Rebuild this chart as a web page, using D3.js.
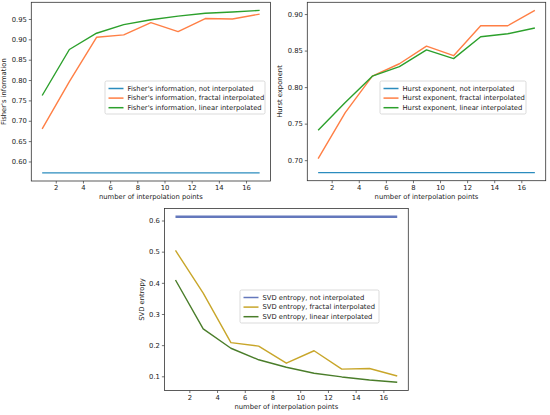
<!DOCTYPE html>
<html>
<head>
<meta charset="utf-8">
<script src="https://cdn.jsdelivr.net/npm/d3@7"></script>
<style>
  body { margin: 0; background: #fff; }
  svg text { font-family: "DejaVu Sans", sans-serif; fill: #222; }
</style>
</head>
<body>
<div id="chart"></div>
<script>
// number of interpolation points (x values, shared by all three panels)
const points = [1, 3, 5, 7, 9, 11, 13, 15, 17];
const xTicks = [2, 4, 6, 8, 10, 12, 14, 16];

// Fisher's information
const fisherNot = [0.572, 0.572, 0.572, 0.572, 0.572, 0.572, 0.572, 0.572, 0.572];
const fisherFractal = [0.680, 0.796, 0.905, 0.911, 0.941, 0.919, 0.951, 0.950, 0.962];
const fisherLinear = [0.762, 0.875, 0.915, 0.936, 0.948, 0.957, 0.964, 0.967, 0.971];
const fisherTicks = [0.60, 0.65, 0.70, 0.75, 0.80, 0.85, 0.90, 0.95];

// Hurst exponent
const hurstNot = [0.683, 0.683, 0.683, 0.683, 0.683, 0.683, 0.683, 0.683, 0.683];
const hurstFractal = [0.702, 0.765, 0.815, 0.832, 0.856, 0.843, 0.884, 0.884, 0.905];
const hurstLinear = [0.741, 0.779, 0.815, 0.828, 0.851, 0.839, 0.869, 0.873, 0.881];
const hurstTicks = [0.70, 0.75, 0.80, 0.85, 0.90];

// SVD entropy
const svdNot = [0.612, 0.612, 0.612, 0.612, 0.612, 0.612, 0.612, 0.612, 0.612];
const svdFractal = [0.504, 0.367, 0.208, 0.197, 0.142, 0.182, 0.123, 0.125, 0.101];
const svdLinear = [0.409, 0.252, 0.190, 0.153, 0.129, 0.110, 0.098, 0.088, 0.081];
const svdTicks = [0.1, 0.2, 0.3, 0.4, 0.5, 0.6];

const W = 550, H = 415;
const FS = 6.8;

const svg = d3.select("#chart").append("svg")
  .attr("width", W)
  .attr("height", H);

// one panel = frame, axes, three lines and a legend
function drawPanel(p) {
  const g = svg.append("g");

  // matplotlib style 5% margins on both axes
  const xPad = (d3.max(points) - d3.min(points)) * 0.05;
  const x = d3.scaleLinear()
    .domain([d3.min(points) - xPad, d3.max(points) + xPad])
    .range([p.left, p.right]);

  const all = p.series.flatMap(s => s.values);
  const yMin = d3.min(all), yMax = d3.max(all);
  const yPad = (yMax - yMin) * 0.05;
  const y = d3.scaleLinear()
    .domain([yMin - yPad, yMax + yPad])
    .range([p.bottom, p.top]);

  // axes
  const xAxis = g.append("g")
    .attr("transform", `translate(0,${p.bottom})`)
    .call(d3.axisBottom(x).tickValues(xTicks).tickSize(2.5).tickPadding(2).tickFormat(d3.format("d")));
  const yAxis = g.append("g")
    .attr("transform", `translate(${p.left},0)`)
    .call(d3.axisLeft(y).tickValues(p.ticks).tickSize(2.5).tickPadding(2).tickFormat(d3.format(p.fmt)));

  [xAxis, yAxis].forEach(a => {
    a.select(".domain").remove();
    a.selectAll("line").attr("stroke", "#333").attr("stroke-width", 0.7);
    a.selectAll("text").attr("font-size", FS).attr("fill", "#222")
      .style("font-family", "'DejaVu Sans', sans-serif");
  });

  // lines
  const line = vals => d3.line()
    .x((d, i) => x(points[i]))
    .y(d => y(d))(vals);

  p.series.forEach(s => {
    g.append("path")
      .attr("d", line(s.values))
      .attr("fill", "none")
      .attr("stroke", s.color)
      .attr("stroke-width", s.width || 1.4)
      .attr("stroke-linejoin", "round");
  });

  // frame
  g.append("rect")
    .attr("x", p.left).attr("y", p.top)
    .attr("width", p.right - p.left).attr("height", p.bottom - p.top)
    .attr("fill", "none")
    .attr("stroke", "#333")
    .attr("stroke-width", 0.8);

  // axis labels
  g.append("text")
    .attr("x", (p.left + p.right) / 2)
    .attr("y", p.bottom + 18)
    .attr("text-anchor", "middle")
    .attr("font-size", FS)
    .text("number of interpolation points");

  g.append("text")
    .attr("transform", `translate(${p.ylabX},${(p.top + p.bottom) / 2}) rotate(-90)`)
    .attr("text-anchor", "middle")
    .attr("font-size", FS)
    .text(p.ylabel);

  // legend
  const lg = g.append("g").attr("transform", `translate(${p.legX},${p.legY})`);
  lg.append("rect")
    .attr("width", p.legW).attr("height", 33)
    .attr("rx", 1.5)
    .attr("fill", "#fff")
    .attr("stroke", "#ccc")
    .attr("stroke-width", 0.7);
  p.series.forEach((s, i) => {
    const yy = 7.5 + i * 9.6;
    lg.append("line")
      .attr("x1", 3.5).attr("x2", 18.5)
      .attr("y1", yy).attr("y2", yy)
      .attr("stroke", s.color)
      .attr("stroke-width", 1.5);
    lg.append("text")
      .attr("x", 22.5).attr("y", yy)
      .attr("dy", "0.35em")
      .attr("font-size", FS)
      .text(s.name);
  });
}

drawPanel({
  left: 31.3, right: 270.5, top: 2.3, bottom: 181,
  ticks: fisherTicks, fmt: ".2f", ylabel: "Fisher's information", ylabX: 6,
  legX: 105, legY: 81, legW: 160,
  series: [
    { name: "Fisher's information, not interpolated", values: fisherNot, color: "#2b8cbe" },
    { name: "Fisher's information, fractal interpolated", values: fisherFractal, color: "#ff7f45" },
    { name: "Fisher's information, linear interpolated", values: fisherLinear, color: "#2ca02c" }
  ]
});

drawPanel({
  left: 307.3, right: 545.7, top: 2.3, bottom: 180.7,
  ticks: hurstTicks, fmt: ".2f", ylabel: "Hurst exponent", ylabX: 282,
  legX: 380, legY: 81, legW: 146,
  series: [
    { name: "Hurst exponent, not interpolated", values: hurstNot, color: "#2b8cbe" },
    { name: "Hurst exponent, fractal interpolated", values: hurstFractal, color: "#ff7f45" },
    { name: "Hurst exponent, linear interpolated", values: hurstLinear, color: "#2ca02c" }
  ]
});

drawPanel({
  left: 164.4, right: 408.3, top: 208.5, bottom: 390.5,
  ticks: svdTicks, fmt: ".1f", ylabel: "SVD entropy", ylabX: 144,
  legX: 240, legY: 290, legW: 139,
  series: [
    { name: "SVD entropy, not interpolated", values: svdNot, color: "#6478bc", width: 2.4 },
    { name: "SVD entropy, fractal interpolated", values: svdFractal, color: "#c8a62a" },
    { name: "SVD entropy, linear interpolated", values: svdLinear, color: "#4a7d2a" }
  ]
});
</script>
</body>
</html>
